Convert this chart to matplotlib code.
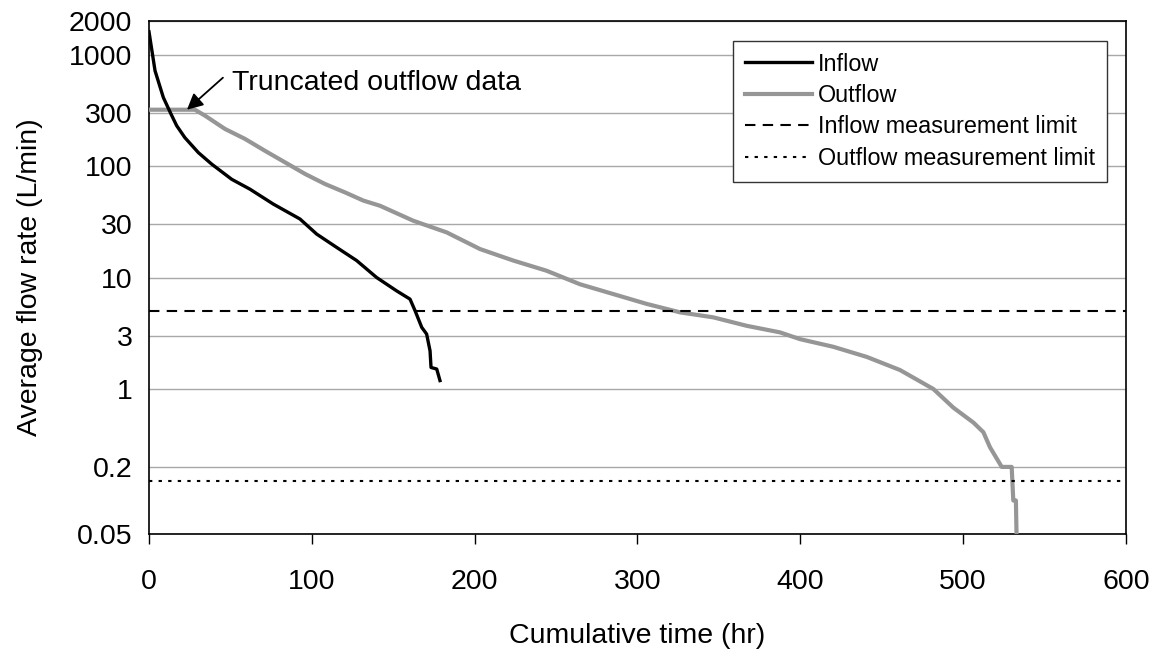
import matplotlib
matplotlib.use('Agg')
import matplotlib.pyplot as plt
from matplotlib.ticker import FixedLocator, FixedFormatter, NullLocator

plt.rcParams['font.family'] = ['Liberation Sans', 'DejaVu Sans']

# inflow curve (hr, L/min)
inflow_t = [0, 3.7, 8.8, 13.5, 17, 22, 30.3, 38.5, 50.8, 62, 76.3, 92.7, 103,
            115.3, 127.5, 139.8, 152, 160.3, 163.4, 167.5, 170.5, 172.6,
            173.2, 176.7, 178.7]
inflow_q = [1600, 716, 412, 293, 230, 180, 132, 104, 76, 62, 45.6, 33.5, 24.5,
            18.6, 14.2, 10.0, 7.6, 6.4, 5.04, 3.57, 3.11, 2.2,
            1.56, 1.51, 1.19]

# outflow curve, flat part at the start is the truncated data
outflow_t = [0, 28.2, 34.4, 46.7, 59, 71.2, 83.5, 95.8, 108.1, 120.4, 131.6,
             141.9, 162.3, 182.8, 203.3, 223.7, 244.2, 264.7, 285.2, 305.6,
             326.1, 346.6, 367, 387.5, 399.8, 420.3, 440.8, 461.2, 481.7,
             494, 506.3, 512.4, 516.5, 523.7, 529.8, 530.8, 532.4, 532.9]
outflow_q = [320, 320, 283, 215, 175, 137, 108, 85, 69, 58, 49,
             44, 32.3, 25.4, 18, 14.2, 11.5, 8.7, 7.1, 5.8,
             4.87, 4.39, 3.69, 3.22, 2.8, 2.39, 1.94, 1.48, 1.0,
             0.68, 0.50, 0.41, 0.30, 0.20, 0.20, 0.1, 0.1, 0.04]

inflow_limit = 5
outflow_limit = 0.15

y_ticks = [0.05, 0.2, 1, 3, 10, 30, 100, 300, 1000, 2000]
y_labels = ['0.05', '0.2', '1', '3', '10', '30', '100', '300', '1000', '2000']
x_ticks = [0, 100, 200, 300, 400, 500, 600]

fig = plt.figure(figsize=(11.65, 6.58), dpi=100)
ax = fig.add_axes([0.1279, 0.1884, 0.8386, 0.7797])

ax.plot(inflow_t, inflow_q, color='black', lw=2.4, label='Inflow', zorder=4)
ax.plot(outflow_t, outflow_q, color='#969696', lw=3.0, label='Outflow', zorder=3)
ax.axhline(inflow_limit, color='black', lw=1.5, dashes=(5, 3.5),
           label='Inflow measurement limit', zorder=5)
ax.axhline(outflow_limit, color='black', lw=1.5, dashes=(1.6, 3),
           label='Outflow measurement limit', zorder=5)

ax.set_yscale('log')
ax.set_ylim(0.05, 2000)
ax.set_xlim(0, 600)
ax.yaxis.set_major_locator(FixedLocator(y_ticks))
ax.yaxis.set_major_formatter(FixedFormatter(y_labels))
ax.yaxis.set_minor_locator(NullLocator())
ax.set_xticks(x_ticks)
ax.set_xticklabels([str(v) for v in x_ticks])

ax.grid(axis='y', color='#a8a8a8', lw=1.0, zorder=0)
ax.tick_params(axis='y', length=0, pad=12, labelsize=20.5)
ax.tick_params(axis='x', direction='out', length=7, width=1, pad=18, labelsize=20.5)
for s in ax.spines.values():
    s.set_linewidth(1.2)

ax.set_xlabel('Cumulative time (hr)', fontsize=20.5, labelpad=20)
ax.set_ylabel('Average flow rate (L/min)', fontsize=20.5, labelpad=19)

# annotation: text plus a separate arrow from its lower-left corner
ax.text(51, 560, 'Truncated outflow data', fontsize=20.5, va='center', ha='left')
ax.annotate('', xy=(23.3, 320), xytext=(45.4, 620),
            arrowprops=dict(arrowstyle='-|>', color='black', lw=1.3,
                            mutation_scale=24, shrinkA=0, shrinkB=0))

leg = ax.legend(loc='upper right', bbox_to_anchor=(0.9805, 0.961), fontsize=16.8,
                frameon=True, fancybox=False, framealpha=1, edgecolor='#333333',
                handlelength=2.9, labelspacing=0.36, borderpad=0.5,
                handletextpad=0.25, borderaxespad=0)
leg.get_frame().set_linewidth(1.0)

fig.savefig('out.png', dpi=100)
